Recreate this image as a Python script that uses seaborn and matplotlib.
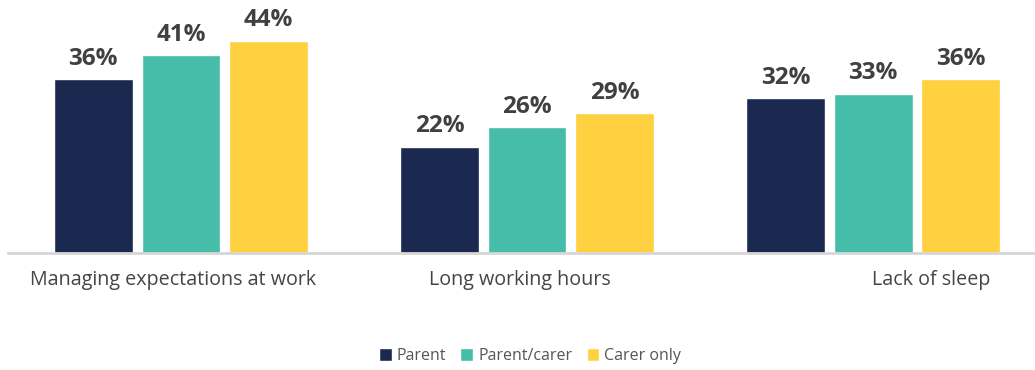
import matplotlib
matplotlib.use("Agg")
import matplotlib.pyplot as plt
import matplotlib.transforms as mtransforms
import seaborn as sns
import pandas as pd

categories = ["Managing expectations at work", "Long working hours", "Lack of sleep"]
groups = ["Parent", "Parent/carer", "Carer only"]
parent = [36, 22, 32]
parent_carer = [41, 26, 33]
carer_only = [44, 29, 36]
colors = ["#1B2951", "#45BDA8", "#FFD03F"]

rows = []
for g, vals in zip(groups, [parent, parent_carer, carer_only]):
    for c, v in zip(categories, vals):
        rows.append({"category": c, "group": g, "value": v})
df = pd.DataFrame(rows)

sns.set_theme(style="white")
plt.rcParams["font.family"] = ["Open Sans", "DejaVu Sans"]

fig = plt.figure(figsize=(10.35, 3.7), dpi=100)
ax = fig.add_axes([8 / 1035, 117 / 370, 1 - 8 / 1035, 253 / 370])

sns.barplot(data=df, x="category", y="value", hue="group", hue_order=groups,
            order=categories, palette=colors, width=0.76, gap=0.1,
            saturation=1, ax=ax, legend=True)

for cont in ax.containers:
    ax.bar_label(cont, fmt="%d%%", padding=6, fontsize=17.5, fontweight="bold",
                 color="#404040")

ax.set_xlim(-0.5, 2.468)
ax.set_ylim(0, 52.4)
ax.set_xlabel("")
ax.set_ylabel("")
ax.set_yticks([])
for s in ["top", "right", "left"]:
    ax.spines[s].set_visible(False)
ax.spines["bottom"].set_color("#d6d6d6")
ax.spines["bottom"].set_linewidth(2)
ax.tick_params(axis="x", length=0, pad=12, labelsize=14.2, labelcolor="#454545")

offsets_px = [-8, -7, 58]
for lbl, dx in zip(ax.get_xticklabels(), offsets_px):
    lbl.set_transform(lbl.get_transform() +
                      mtransforms.ScaledTranslation(dx / 100, 0, fig.dpi_scale_trans))

leg = ax.legend(loc="center", bbox_to_anchor=(530 / 1035, 14 / 370),
                bbox_transform=fig.transFigure, ncol=3, frameon=False,
                fontsize=11.5, handlelength=0.8, handleheight=0.8,
                handletextpad=0.3, columnspacing=0.9)
for t in leg.get_texts():
    t.set_color("#555555")

fig.savefig("out.png", dpi=100)
